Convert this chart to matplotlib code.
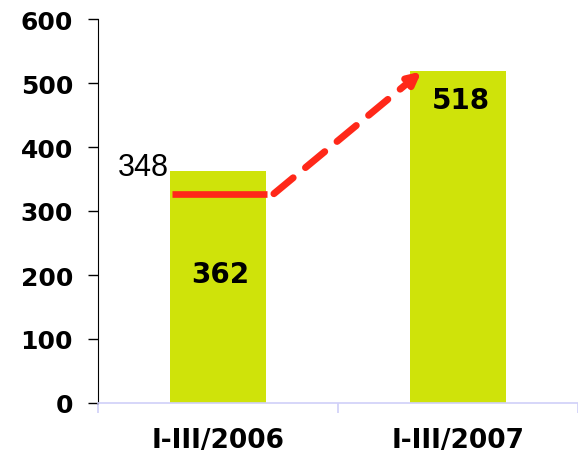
import matplotlib
matplotlib.use('Agg')
from matplotlib import pyplot as plt

categories = ['I-III/2006', 'I-III/2007']
values = [362, 518]
value_labels = ['362', '518']
label_heights = [201, 473]
prev_level = 327
prev_label = '348'

plt.rcParams['font.family'] = ['Liberation Sans', 'DejaVu Sans']
bold_font = ['DejaVu Sans']

fig = plt.figure(figsize=(5.78, 4.56), dpi=100)
ax = fig.add_axes([98 / 578, 52 / 456, 480 / 578, 384 / 456])

bar_color = '#cfe30a'
red = '#ff2819'
x = list(range(len(categories)))
ax.bar(x, values, width=0.4, color=bar_color, zorder=2)

for xi, txt, h in zip(x, value_labels, label_heights):
    ax.text(xi + 0.01, h, txt, ha='center', va='center', fontsize=20,
            fontweight='bold', family=bold_font, color='black', zorder=4)

# level of previous period drawn across first bar
ax.plot([x[0] - 0.19, x[0] + 0.205], [prev_level, prev_level], color=red,
        lw=4.8, solid_capstyle='butt', zorder=3)
ax.text(x[0] - 0.205, prev_level + 42, prev_label, ha='right', va='center',
        fontsize=22, color='black')

# dashed arrow to the second bar
ax.annotate('', xy=(x[1] - 0.152, values[1]), xytext=(x[0] + 0.233, prev_level),
            arrowprops=dict(arrowstyle='-|>', color=red, lw=5,
                            linestyle=(0, (3.6, 2.3)), mutation_scale=18,
                            shrinkA=0, shrinkB=0), zorder=3)

ax.set_xlim(-0.5, -0.5 + 480 / 247)
ax.set_ylim(0, 600)
ax.set_yticks(range(0, 601, 100))
ax.set_yticklabels([str(v) for v in range(0, 601, 100)], fontsize=18,
                   fontweight='bold', family=bold_font)
ax.set_xticks(x)
ax.set_xticklabels(categories, fontsize=19, fontweight='bold', family=bold_font)
ax.set_xticks([-0.5, 0.5, 1.5], minor=True)
ax.tick_params(axis='x', which='major', length=0, pad=17)
ax.tick_params(axis='x', which='minor', length=7, color='#d0d0f8', width=1.2)
ax.tick_params(axis='y', length=7, width=1, pad=11)

for side in ['top', 'right']:
    ax.spines[side].set_visible(False)
ax.spines['bottom'].set_color('#d0d0f8')
ax.spines['bottom'].set_linewidth(1.2)
ax.spines['left'].set_color('black')

fig.savefig('out.png', dpi=100)
